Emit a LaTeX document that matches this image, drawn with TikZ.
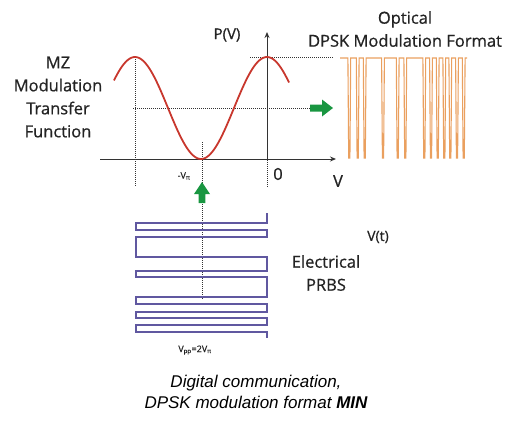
\documentclass[tikz,border=0pt]{standalone}
\usepackage{fontspec}
\setmainfont{Open Sans}
\newfontfamily\lblfont{Open Sans}[FakeBold=0.7]
\newfontfamily\capfont{Liberation Sans}
\usetikzlibrary{arrows.meta}

\definecolor{sinered}{RGB}{200,55,45}
\definecolor{optorange}{RGB}{234,160,95}
\definecolor{prbsblue}{RGB}{96,88,160}
\definecolor{arrowgreen}{RGB}{25,150,65}
\definecolor{txtgray}{RGB}{35,35,35}

\tikzset{
  guide/.style={line width=0.9pt, black!80, dash pattern=on 1pt off 1pt},
  label/.style={text=txtgray, inner sep=0pt, font=\lblfont\fontsize{16.5}{23}\selectfont},
  small/.style={text=txtgray, inner sep=0pt, font=\lblfont\fontsize{9}{10}\selectfont}
}

\begin{document}
\begin{tikzpicture}[x=1pt,y=-1pt]
\useasboundingbox (0,0) rectangle (512,421);

% guide lines
\draw[guide]  (135,57) -- (135,187);
\draw[guide]  (133,108) -- (310,108);
\draw[guide]  (250,57) -- (333,57);
\draw[guide]  (202,142) -- (202,300);
\draw[guide]  (267,160) -- (267,187);

% axes
\draw[line width=1pt, black!80, -{Stealth[length=6pt,width=5pt]}]  (100,159) -- (336,159);
\draw[line width=1pt, black!80, -{Stealth[length=6pt,width=5pt]}]  (267,160) -- (267,32);

% MZ transfer curve
\draw[sinered, line width=1.8pt]  plot[domain=114:289, samples=90, smooth] (\x, {108-51*cos(2.72727*(\x-135))});

% optical output
\draw[optorange, line width=1.1pt]  (340,58) \foreach \c in {349.3,357.7,364.7,383,397.7,405.3,424.3,431,437.7,444.3,450.3,457,463.7} { -- (\c-1.4,58) -- (\c-0.6,158) -- (\c+0.6,158) -- (\c+1.4,58) } -- (467,58);

% electrical PRBS
\draw[prbsblue, line width=1.4pt]  (267,213) -- (267,223) -- (136,223) -- (136,230) -- (267,230) -- (267,237) -- (136,237) -- (136,257) -- (267,257) -- (267,271) -- (136,271) -- (136,277) -- (267,277) -- (267,297) -- (136,297) -- (136,304) -- (267,304) -- (267,312) -- (136,312) -- (136,318) -- (267,318) -- (267,325) -- (136,325) -- (136,332) -- (267,332) -- (267,338);

% green arrows
\fill[arrowgreen]  (310,104.5) -- (322,104.5) -- (322,99.5) -- (333,108) -- (322,116.5) -- (322,111.5) -- (310,111.5) -- cycle;
\fill[arrowgreen]  (198.6,203) -- (198.6,194) -- (194,194) -- (202,182) -- (210,194) -- (205.4,194) -- (205.4,203) -- cycle;

% labels
\node[label, align=center] (mz) at (58,97) {MZ\\Modulation\\Transfer\\Function};
\node[label, align=center] (optical) at (405,29) {Optical\\DPSK Modulation Format};
\node[label, align=center] (prbs) at (326,273) {Electrical\\PRBS};
\node[label, font=\lblfont\fontsize{15}{18}\selectfont] (pv) at (227,35) {P(V)};
\node[label, font=\lblfont\fontsize{14}{18}\selectfont] (vt) at (378,237) {V(t)};
\node[label] (vaxis) at (338,181) {V};
\node[label] (zero) at (278,174) {0};
\node[small] (vpi) at (184,176) {-V\textsubscript{π}};
\node[small] (vpp) at (195,350) {V\textsubscript{pp}=2V\textsubscript{π}};
\node[inner sep=0pt, align=center, font=\capfont\itshape\fontsize{17}{21}\selectfont] (caption) at (256,392) {Digital communication,\\DPSK modulation format \textbf{MIN}};
\end{tikzpicture}
\end{document}
